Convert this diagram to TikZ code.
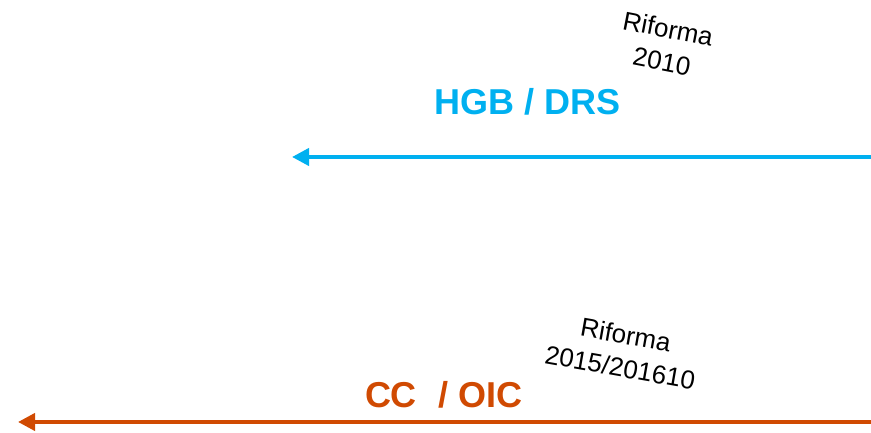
\documentclass[tikz,border=0pt]{standalone}
\usepackage{fontspec}
\setmainfont{Liberation Sans}
\usetikzlibrary{arrows.meta}
\definecolor{hgbblue}{RGB}{0,176,240}
\definecolor{ccorange}{RGB}{208,74,2}
\tikzset{
  timeline/.style={line width=4pt,-{Triangle[length=17pt,width=17pt]}},
  bigtitle/.style={font=\bfseries\fontsize{36}{40}\selectfont,inner sep=0pt},
  reform/.style={font=\fontsize{26}{33}\selectfont,align=center,inner sep=0pt}
}
\begin{document}
\begin{tikzpicture}[x=1pt,y=1pt]
\useasboundingbox (0,0) rectangle (871,433);
\coordinate (bstart) at (873,276);
\coordinate (bend) at (292,276);
\coordinate (ostart) at (873,11);
\coordinate (oend) at (18,11);
\draw[timeline,hgbblue] (bstart) -- (bend);
\draw[timeline,ccorange] (ostart) -- (oend);
\node[bigtitle,text=hgbblue] (hgb) at (528,331) {HGB / DRS};
\node[bigtitle,text=ccorange] (cc) at (444,38) {CC\hspace{22pt}/ OIC};
\node[reform,rotate=-11] (r1) at (665,388) {Riforma\\2010};
\node[reform,rotate=-10] (r2) at (623,82) {Riforma\\2015/201610};
\end{tikzpicture}
\end{document}
